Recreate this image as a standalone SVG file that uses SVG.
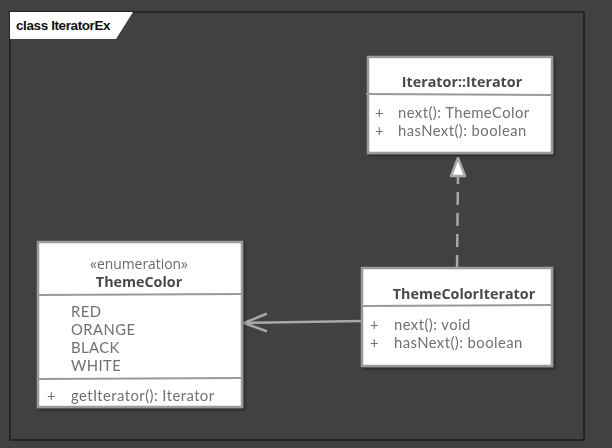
<svg xmlns="http://www.w3.org/2000/svg" width="612" height="448" viewBox="0 0 612 448">
<defs>
<style>
.box{fill:#ffffff;stroke:#9a9a9a;stroke-width:2.5}
.sep{stroke:#9a9a9a;stroke-width:2;fill:none}
.title{font-family:"Open Sans","Noto Sans",sans-serif;font-size:14.3px;font-weight:bold;fill:#4a4a4a;text-anchor:middle}
.stereo{font-family:"Open Sans","Noto Sans",sans-serif;font-size:13.9px;fill:#6a6a6a;text-anchor:middle}
.item{font-family:Lato,"Open Sans",sans-serif;font-size:14.8px;letter-spacing:0.45px;fill:#707070}
.conn{stroke:#a8a8a8;stroke-width:2.5;fill:none}
</style>
<filter id="sh" x="-10%" y="-10%" width="130%" height="130%">
<feDropShadow dx="2" dy="2" stdDeviation="1" flood-color="#000" flood-opacity="0.35"/>
</filter>
</defs>
<rect x="0" y="0" width="612" height="448" fill="#414042"/>
<rect x="10" y="12" width="574" height="428" fill="none" stroke="#1e1e1e" stroke-width="1.5"/>
<polygon points="10,12 133,12 116,39 10,39" fill="#ffffff"/>
<text x="16" y="30" font-family="Liberation Sans, Arial, sans-serif" font-size="13.5" font-weight="bold" fill="#111" letter-spacing="-0.4">class IteratorEx</text>

<g id="connectors">
<line class="conn" x1="457" y1="268" x2="458" y2="175" stroke-dasharray="13,8"/>
<polygon points="458,158 451,176 465,176" fill="#ffffff" stroke="#a8a8a8" stroke-width="2.5" stroke-linejoin="round"/>
<line class="conn" x1="362" y1="321" x2="244" y2="323"/>
<polyline class="conn" points="266,314 244,323 266,331" stroke-linecap="round" stroke-linejoin="round"/>
</g>

<g id="iterator" filter="url(#sh)">
<rect class="box" x="368" y="57" width="184" height="96"/>
<line class="sep" x1="366" y1="94" x2="552" y2="95"/>
<text class="title" x="462" y="87">Iterator::Iterator</text>
<text class="item" x="375" y="118">+</text>
<text class="item" x="398" y="118">next(): ThemeColor</text>
<text class="item" x="375" y="136">+</text>
<text class="item" x="398" y="136">hasNext(): boolean</text>
</g>

<g id="themecolor" filter="url(#sh)">
<rect class="box" x="38" y="242" width="204" height="165"/>
<line class="sep" x1="38" y1="295" x2="242" y2="294"/>
<line class="sep" x1="38" y1="379" x2="242" y2="378"/>
<text class="stereo" x="139" y="269">«enumeration»</text>
<text class="title" x="139" y="287">ThemeColor</text>
<text class="item" x="71" y="317">RED</text>
<text class="item" x="71" y="335">ORANGE</text>
<text class="item" x="71" y="353">BLACK</text>
<text class="item" x="71" y="371">WHITE</text>
<text class="item" x="47" y="401">+</text>
<text class="item" x="71" y="401">getIterator(): Iterator</text>
</g>

<g id="themecoloriterator" filter="url(#sh)">
<rect class="box" x="362" y="268" width="190" height="98"/>
<line class="sep" x1="362" y1="306" x2="552" y2="305"/>
<text class="title" x="464" y="299">ThemeColorIterator</text>
<text class="item" x="370" y="330">+</text>
<text class="item" x="394" y="330">next(): void</text>
<text class="item" x="370" y="348">+</text>
<text class="item" x="394" y="348">hasNext(): boolean</text>
</g>
</svg>
